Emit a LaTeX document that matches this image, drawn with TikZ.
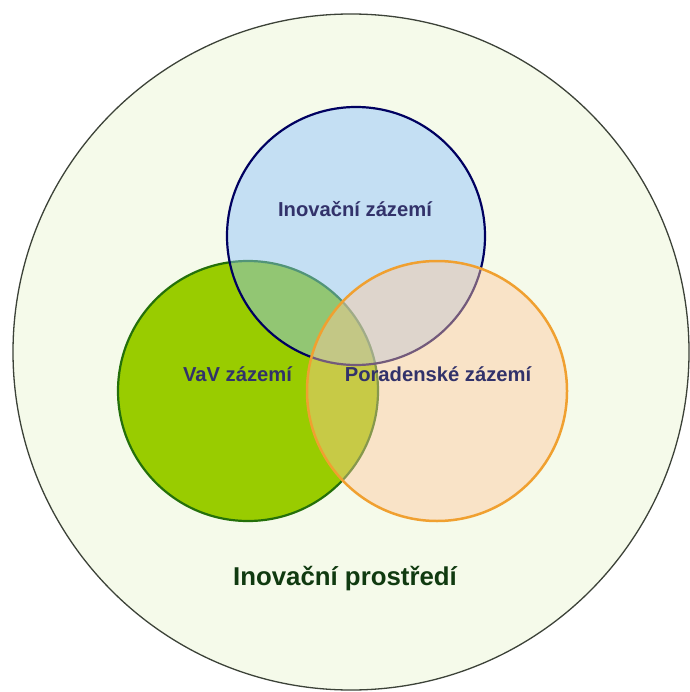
\documentclass[tikz,border=0pt]{standalone}
\usepackage{fontspec}
\setmainfont{Liberation Sans}
\definecolor{envfill}{RGB}{245,250,234}
\definecolor{envline}{RGB}{60,66,56}
\definecolor{vavfill}{RGB}{153,204,0}
\definecolor{vavline}{RGB}{36,112,10}
\definecolor{inofill}{RGB}{138,192,255}
\definecolor{inoline}{RGB}{0,0,96}
\definecolor{porfill}{RGB}{255,201,157}
\definecolor{porline}{RGB}{240,160,48}
\definecolor{labelnavy}{RGB}{50,50,106}
\definecolor{labelgreen}{RGB}{16,58,16}
\tikzset{
  setlabel/.style={font=\fontsize{20.2}{24}\selectfont\bfseries, text=labelnavy, anchor=base, inner sep=0pt},
  envlabel/.style={font=\fontsize{25.8}{30}\selectfont\bfseries, text=labelgreen, anchor=base, inner sep=0pt}
}
\begin{document}
\begin{tikzpicture}[x=1pt,y=-1pt]
  \useasboundingbox (0,0) rectangle (689,692);
  % surrounding environment
  \draw[envline, line width=1.3pt, fill=envfill] (351,352) circle[radius=338];
  % research base (opaque, lowest)
  \draw[vavline, line width=2.2pt, fill=vavfill] (248,391) circle[radius=130];
  % innovation base (translucent)
  \draw[inoline, line width=2.2pt, fill=inofill, fill opacity=0.45] (356,236) circle[radius=129];
  % consulting base (translucent)
  \draw[porline, line width=2.5pt, fill=porfill, fill opacity=0.45] (437,391) circle[radius=130];
  % labels
  \node[setlabel] (ino) at (355,217) {Inovační zázemí};
  \node[setlabel] (vav) at (237.5,381.5) {VaV zázemí};
  \node[setlabel] (por) at (438,381) {Poradenské zázemí};
  \node[envlabel] (env) at (345,585) {Inovační prostředí};
\end{tikzpicture}
\end{document}
